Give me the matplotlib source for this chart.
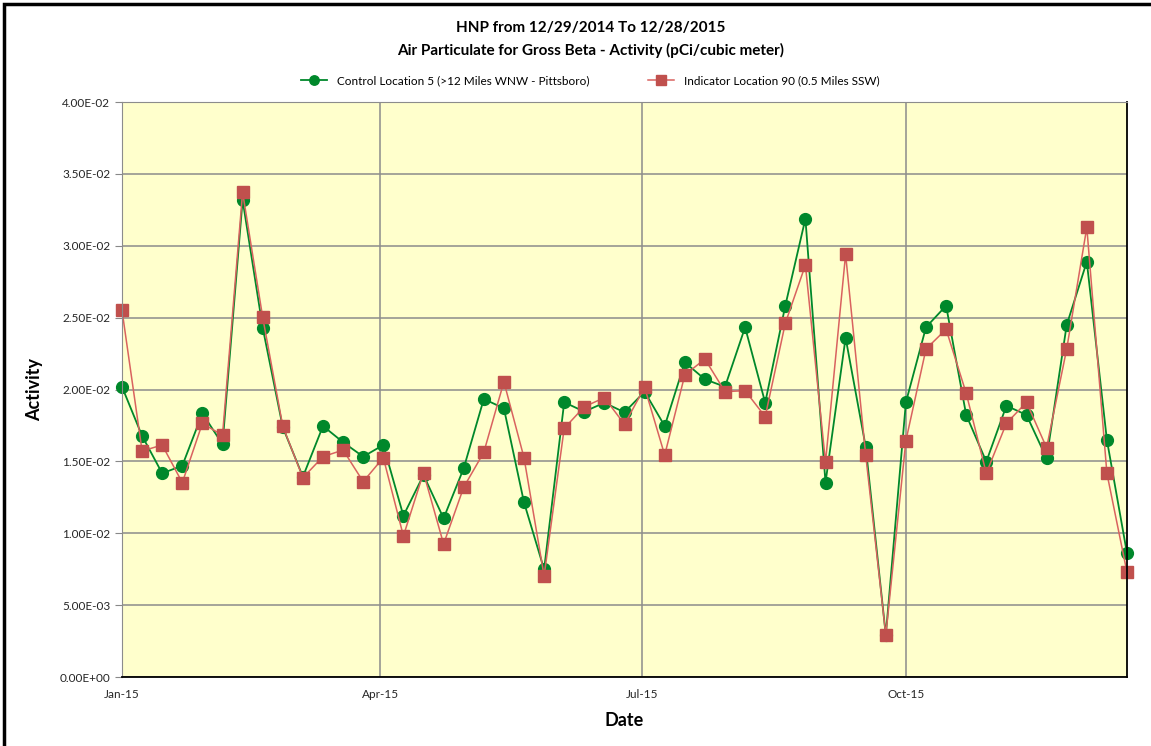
import datetime as dt
import pandas as pd
import matplotlib.pyplot as plt
from matplotlib.patches import Rectangle
from matplotlib.ticker import FuncFormatter

plt.rcParams['font.family'] = ['Lato', 'DejaVu Sans']

# weekly collection dates (51 samples)
dates = pd.date_range('2015-01-05', periods=51, freq='7D')

control_loc5 = [
    0.02019, 0.01677, 0.01417, 0.01470, 0.01834, 0.01619, 0.03318, 0.02430,
    0.01737, 0.01393, 0.01746, 0.01633, 0.01533, 0.01614, 0.01122, 0.01405,
    0.01104, 0.01452, 0.01934, 0.01869, 0.01215, 0.00749, 0.01911, 0.01846,
    0.01908, 0.01841, 0.01985, 0.01746, 0.02189, 0.02071, 0.02019, 0.02433,
    0.01908, 0.02583, 0.03188, 0.01352, 0.02360, 0.01602, 0.00292, 0.01911,
    0.02433, 0.02583, 0.01823, 0.01498, 0.01887, 0.01823, 0.01521, 0.02449,
    0.02889, 0.01649, 0.00860,
]
indicator_loc90 = [
    0.02551, 0.01572, 0.01614, 0.01352, 0.01765, 0.01681, 0.03372, 0.02502,
    0.01744, 0.01386, 0.01533, 0.01579, 0.01359, 0.01526, 0.00981, 0.01421,
    0.00925, 0.01320, 0.01563, 0.02054, 0.01526, 0.00703, 0.01730, 0.01880,
    0.01943, 0.01758, 0.02015, 0.01544, 0.02101, 0.02212, 0.01985, 0.01992,
    0.01811, 0.02461, 0.02866, 0.01494, 0.02941, 0.01544, 0.00292, 0.01644,
    0.02282, 0.02419, 0.01974, 0.01417, 0.01765, 0.01911, 0.01595, 0.02282,
    0.03128, 0.01417, 0.00728,
]

tick_dates = [dt.datetime(2015, 1, 5), dt.datetime(2015, 4, 5),
              dt.datetime(2015, 7, 5), dt.datetime(2015, 10, 5)]
tick_labels = ['Jan-15', 'Apr-15', 'Jul-15', 'Oct-15']

fig = plt.figure(figsize=(11.51, 7.46), dpi=100)
ax = fig.add_axes([122 / 1151, 1 - 677 / 746, (1127 - 122) / 1151, (677 - 102) / 746])
ax.set_facecolor('#ffffcc')

ax.plot(dates, control_loc5, color='#00882b', lw=1.3, marker='o', ms=8.5,
        clip_on=False, label='Control Location 5 (>12 Miles WNW - Pittsboro)')
ax.plot(dates, indicator_loc90, color='#d9625f', lw=1.1, marker='s', ms=8.5,
        markerfacecolor='#c0504d', markeredgecolor='#c0504d', clip_on=False,
        label='Indicator Location 90 (0.5 Miles SSW)')

ax.set_xlim(dates[0], dates[-1])
ax.set_ylim(0, 0.04)
ax.set_yticks([i * 0.005 for i in range(9)])
ax.yaxis.set_major_formatter(FuncFormatter(lambda v, p: f'{v:.2E}'))
ax.set_xticks(tick_dates)
ax.set_xticklabels(tick_labels)
ax.tick_params(axis='both', labelsize=8.5, colors='#262626')
ax.tick_params(axis='x', length=0, pad=9)
ax.tick_params(axis='y', length=5, color='#888888')

ax.grid(True, color='#8c8c8c', lw=1.1)
ax.set_axisbelow(True)
for side in ['left', 'top']:
    ax.spines[side].set_color('#8c8c8c')
ax.spines['bottom'].set_color('black')
ax.spines['right'].set_color('black')
ax.spines['bottom'].set_linewidth(1.3)
ax.spines['right'].set_linewidth(1.3)

ax.set_xlabel('Date', fontsize=13, fontweight='bold', labelpad=8)
ax.set_ylabel('Activity', fontsize=13, fontweight='bold', labelpad=12)

fig.text(0.513, 1 - 28 / 746, 'HNP from 12/29/2014 To 12/28/2015', ha='center',
         va='center', fontsize=11, fontweight='bold')
fig.text(0.513, 1 - 50 / 746, 'Air Particulate for Gross Beta - Activity (pCi/cubic meter)',
         ha='center', va='center', fontsize=11, fontweight='bold')
fig.legend(loc='center', bbox_to_anchor=(0.513, 1 - 81 / 746), ncol=2, frameon=False,
           fontsize=8.5, handlelength=2.2, columnspacing=5, markerscale=0.8)

# chart border (left/top visible)
fig.patches.append(Rectangle((4 / 1151, -0.05), 1.2, 1 - 4 / 746 + 0.05,
                             transform=fig.transFigure, fill=False,
                             edgecolor='black', lw=2.5))

fig.savefig('out.png', dpi=100)
